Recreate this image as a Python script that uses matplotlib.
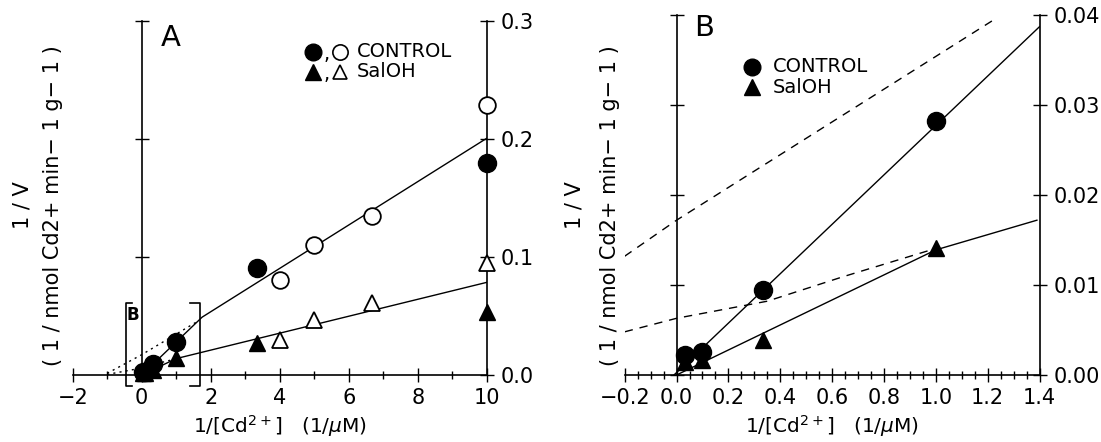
import matplotlib
matplotlib.use("Agg")
import matplotlib.pyplot as plt
from matplotlib.ticker import MultipleLocator, FuncFormatter

plt.rcParams['font.family'] = ['DejaVu Sans']
plt.rcParams['mathtext.fontset'] = 'dejavusans'

# Daten Panel A: 1/[Cd2+] (1/uM) und 1/V
x_fill = [0.033, 0.1, 0.333, 1.0, 3.33, 10.0]
ctrl_fill = [0.0022, 0.0026, 0.0094, 0.0282, 0.0904, 0.1794]
sal_fill = [0.0015, 0.0017, 0.0039, 0.0141, 0.0268, 0.0537]

x_open = [4.0, 5.0, 6.67, 10.0]
ctrl_open = [0.0805, 0.1102, 0.1347, 0.2288]
sal_open = [0.0297, 0.0466, 0.0610, 0.0946]

# Ausgleichsgeraden
ctrl_line_x = [0.0, 1.75, 10.0]
ctrl_line_y = [0.0, 0.049, 0.2006]
sal_line_x = [0.0, 1.0, 10.0]
sal_line_y = [0.0, 0.0139, 0.0785]

# punktierte Kurven in A
dot_up_x = [-1.0, 0.0, 1.65]
dot_up_y = [0.0014, 0.0172, 0.046]
dot_lo_x = [-1.0, -0.2, 0.0, 1.0]
dot_lo_y = [0.0005, 0.0048, 0.0063, 0.0138]

# Panel B (Ausschnitt)
xb = [0.033, 0.1, 0.333, 1.0]
ctrl_b = [0.0022, 0.0026, 0.0094, 0.0282]
sal_b = [0.0015, 0.0017, 0.0039, 0.0141]
ctrl_b_line_x = [-0.01, 1.4]
ctrl_b_line_y = [0.0, 0.0387]
sal_b_line_x = [0.0, 1.0, 1.39]
sal_b_line_y = [0.0, 0.0139, 0.0172]
dash_up_x = [-0.2, 0.0, 1.22]
dash_up_y = [0.0132, 0.0172, 0.0394]
dash_lo_x = [-0.2, 0.0, 0.35, 0.64, 0.97]
dash_lo_y = [0.0048, 0.0063, 0.0082, 0.0109, 0.0138]

W, H = 1101, 442
fig = plt.figure(figsize=(W / 100, H / 100), dpi=100)
axA = fig.add_axes([72.7 / W, 1 - 375 / H, 414 / W, 354 / H])
axB = fig.add_axes([624.7 / W, 1 - 375 / H, 414.8 / W, 360 / H])


def fmt(nd):
    return FuncFormatter(lambda v, p: f"{v:.{nd}f}".replace('-', '\u2212'))


def style(ax):
    ax.spines['top'].set_visible(False)
    ax.spines['left'].set_position(('data', 0))
    for s in ['left', 'right', 'bottom']:
        ax.spines[s].set_linewidth(1.2)
    ax.tick_params(axis='both', which='both', direction='inout', width=1.0,
                   labelsize=15)
    ax.tick_params(axis='both', which='major', length=10)
    ax.tick_params(axis='both', which='minor', length=6)
    ax.tick_params(axis='x', pad=4)
    ax.tick_params(axis='y', left=True, right=True, labelleft=False,
                   labelright=True, pad=5)


ms_c = 13
ms_t = 12

# Panel A
style(axA)
axA.set_xlim(-2, 10)
axA.set_ylim(0, 0.3)
axA.xaxis.set_major_locator(MultipleLocator(2))
axA.xaxis.set_minor_locator(MultipleLocator(1))
axA.xaxis.set_major_formatter(fmt(0))
axA.yaxis.set_major_locator(MultipleLocator(0.1))
axA.yaxis.set_major_formatter(fmt(1))

axA.plot(dot_up_x, dot_up_y, color='k', lw=1.0, ls=(0, (1.5, 3)))
axA.plot(dot_lo_x, dot_lo_y, color='k', lw=1.0, ls=(0, (1.5, 3)))
axA.plot(ctrl_line_x, ctrl_line_y, color='k', lw=1.0)
axA.plot(sal_line_x, sal_line_y, color='k', lw=1.0)
axA.plot(x_fill, ctrl_fill, 'o', color='k', ms=ms_c, ls='none', clip_on=False, zorder=5)
axA.plot(x_open, ctrl_open, 'o', mfc='white', mec='k', mew=1.3, ms=ms_c - 1, ls='none',
         clip_on=False, zorder=5)
axA.plot(x_fill, sal_fill, '^', color='k', ms=ms_t, ls='none', clip_on=False, zorder=5)
axA.plot(x_open, sal_open, '^', mfc='white', mec='k', mew=1.3, ms=ms_t - 1, ls='none',
         clip_on=False, zorder=5)

# Klammer "B"
axA.plot([-0.28, -0.455, -0.455, -0.28], [0.0607, 0.0607, -0.0093, -0.0093],
         color='k', lw=1.2, clip_on=False)
axA.plot([1.4, 1.69, 1.69, 1.4], [0.0607, 0.0607, -0.0093, -0.0093],
         color='k', lw=1.2, clip_on=False)
axA.text(-0.27, 0.0508, 'B', fontsize=12, fontweight='bold', ha='center', va='center')

axA.text(0.236, 0.953, 'A', transform=axA.transAxes, fontsize=21, ha='center', va='center')

# Legende A
axA.plot([0.581], [0.913], 'o', color='k', ms=12, transform=axA.transAxes, clip_on=False)
axA.text(0.6135, 0.905, ',', transform=axA.transAxes, fontsize=14, ha='center', va='center')
axA.plot([0.6457], [0.913], 'o', mfc='white', mec='k', mew=1.2, ms=11,
         transform=axA.transAxes, clip_on=False)
axA.text(0.686, 0.913, 'CONTROL', transform=axA.transAxes, fontsize=14, va='center')
axA.plot([0.581], [0.857], '^', color='k', ms=11, transform=axA.transAxes, clip_on=False)
axA.text(0.6135, 0.849, ',', transform=axA.transAxes, fontsize=14, ha='center', va='center')
axA.plot([0.6457], [0.857], '^', mfc='white', mec='k', mew=1.2, ms=10,
         transform=axA.transAxes, clip_on=False)
axA.text(0.686, 0.857, 'SalOH', transform=axA.transAxes, fontsize=14, va='center')

# Panel B
style(axB)
axB.set_xlim(-0.2, 1.4)
axB.set_ylim(0, 0.04)
axB.xaxis.set_major_locator(MultipleLocator(0.2))
axB.xaxis.set_minor_locator(MultipleLocator(0.05))
axB.xaxis.set_major_formatter(fmt(1))
axB.yaxis.set_major_locator(MultipleLocator(0.01))
axB.yaxis.set_major_formatter(fmt(2))

axB.plot(dash_up_x, dash_up_y, color='k', lw=1.0, ls=(0, (6, 5)))
axB.plot(dash_lo_x, dash_lo_y, color='k', lw=1.0, ls=(0, (6, 5)))
axB.plot(ctrl_b_line_x, ctrl_b_line_y, color='k', lw=1.0)
axB.plot(sal_b_line_x, sal_b_line_y, color='k', lw=1.0)
axB.plot(xb, ctrl_b, 'o', color='k', ms=ms_c, ls='none', clip_on=False, zorder=5)
axB.plot(xb, sal_b, '^', color='k', ms=ms_t, ls='none', clip_on=False, zorder=5)

axB.text(0.192, 0.963, 'B', transform=axB.transAxes, fontsize=21, ha='center', va='center')

axB.plot([0.306], [0.856], 'o', color='k', ms=12, transform=axB.transAxes, clip_on=False)
axB.text(0.358, 0.856, 'CONTROL', transform=axB.transAxes, fontsize=14, va='center')
axB.plot([0.306], [0.799], '^', color='k', ms=11, transform=axB.transAxes, clip_on=False)
axB.text(0.358, 0.799, 'SalOH', transform=axB.transAxes, fontsize=14, va='center')

# Achsenbeschriftungen
xlab = '1/[Cd$^{2+}$]   (1/$\\mu$M)'
fig.text(279.7 / W, 1 - 426 / H, xlab, fontsize=14.5, ha='center', va='center')
fig.text(832 / W, 1 - 426 / H, xlab, fontsize=14.5, ha='center', va='center')

ylab1 = '1 / V'
ylab2 = '( 1 / nmol Cd2+ min\u2212 1 g\u2212 1 )'
for x1, x2 in [(22, 53), (575, 610)]:
    fig.text(x1 / W, 1 - 205 / H, ylab1, fontsize=15, rotation=90, ha='center', va='center')
    fig.text(x2 / W, 1 - 206 / H, ylab2, fontsize=15, rotation=90, ha='center', va='center')

fig.savefig('out.png', dpi=100)
